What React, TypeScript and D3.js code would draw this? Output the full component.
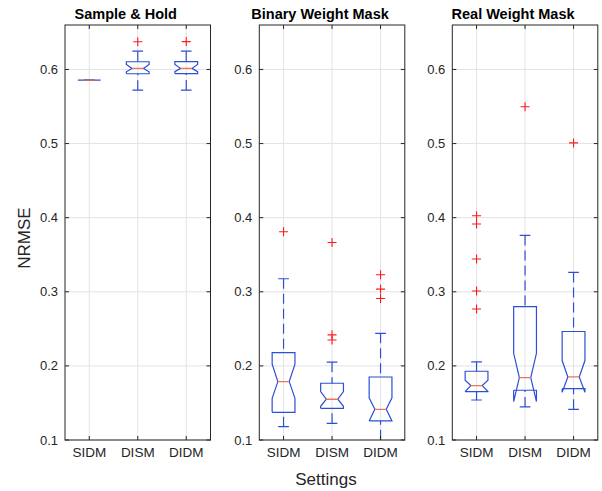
import React, { useEffect, useRef } from "react";
import * as d3 from "d3";

const categories = ["SIDM", "DISM", "DIDM"];
const panelTitles = ["Sample & Hold", "Binary Weight Mask", "Real Weight Mask"];
const yTicks = [0.1, 0.2, 0.3, 0.4, 0.5, 0.6];

// one row per panel, one value per setting (SIDM, DISM, DIDM)
const medians = [
  [0.5855, 0.6014, 0.6015],
  [0.1788, 0.155, 0.1414],
  [0.1734, 0.1842, 0.1851],
];
const q1s = [
  [0.5855, 0.5942, 0.5945],
  [0.1374, 0.1428, 0.1257],
  [0.1653, 0.1671, 0.1693],
];
const q3s = [
  [0.5855, 0.6104, 0.6105],
  [0.218, 0.1766, 0.185],
  [0.1928, 0.2801, 0.2464],
];
const notchLo = [
  [0.5855, 0.5969, 0.597],
  [0.1563, 0.1455, 0.1257],
  [0.1655, 0.1518, 0.1644],
];
const notchHi = [
  [0.5855, 0.6068, 0.6068],
  [0.2023, 0.1653, 0.157],
  [0.1808, 0.217, 0.2072],
];
const whiskerLo = [
  [0.5855, 0.572, 0.5722],
  [0.118, 0.1225, 0.08],
  [0.154, 0.1446, 0.1414],
];
const whiskerHi = [
  [0.5855, 0.6247, 0.6247],
  [0.3176, 0.205, 0.244],
  [0.2054, 0.376, 0.3261],
];
const outliers = [
  [[], [0.6374], [0.6376]],
  [[0.381], [0.3666, 0.2419, 0.235], [0.323, 0.3036, 0.291]],
  [[0.4027, 0.3915, 0.3442, 0.301, 0.2768], [0.5496], [0.5009]],
];

const W = 602;
const H = 491;
const panelLeft = [65, 259.3, 452.3];
const panelW = 145.5;
const top = 25;
const bottom = 440;
const axisColor = "#262626";
const boxColor = "#2b4fd6";
const font = "'Liberation Sans', Arial, Helvetica, sans-serif";

export default function App() {
  const ref = useRef<SVGSVGElement>(null);

  useEffect(() => {
    const svg = d3.select(ref.current);
    svg.selectAll("*").remove();

    const y = d3.scaleLinear().domain([0.1, 0.66]).range([bottom, top]);

    panelTitles.forEach((title, p) => {
      const left = panelLeft[p];
      const x = d3.scaleLinear().domain([0.5, 3.5]).range([left, left + panelW]);
      const unit = x(1) - x(0);
      const half = 0.235 * unit;
      const notch = half / 2;
      const cap = 0.11 * unit;

      const g = svg.append("g");
      const clipId = `clip${p}`;
      g.append("clipPath")
        .attr("id", clipId)
        .append("rect")
        .attr("x", left)
        .attr("y", top)
        .attr("width", panelW)
        .attr("height", bottom - top);

      // grid
      g.selectAll(".hgrid")
        .data(yTicks)
        .enter()
        .append("line")
        .attr("x1", left)
        .attr("x2", left + panelW)
        .attr("y1", (d) => y(d))
        .attr("y2", (d) => y(d))
        .attr("stroke", "#e3e3e3");
      g.selectAll(".vgrid")
        .data(categories)
        .enter()
        .append("line")
        .attr("x1", (d, i) => x(i + 1))
        .attr("x2", (d, i) => x(i + 1))
        .attr("y1", top)
        .attr("y2", bottom)
        .attr("stroke", "#e3e3e3");

      const plot = g.append("g").attr("clip-path", `url(#${clipId})`);

      categories.forEach((c, i) => {
        const cx = x(i + 1);
        const L = cx - half;
        const R = cx + half;
        const pts: [number, number][] = [
          [L, y(q1s[p][i])],
          [L, y(notchLo[p][i])],
          [cx - notch, y(medians[p][i])],
          [L, y(notchHi[p][i])],
          [L, y(q3s[p][i])],
          [R, y(q3s[p][i])],
          [R, y(notchHi[p][i])],
          [cx + notch, y(medians[p][i])],
          [R, y(notchLo[p][i])],
          [R, y(q1s[p][i])],
          [L, y(q1s[p][i])],
        ];

        // whiskers
        [
          [q3s[p][i], whiskerHi[p][i]],
          [q1s[p][i], whiskerLo[p][i]],
        ].forEach(([a, b]) => {
          plot
            .append("line")
            .attr("x1", cx)
            .attr("x2", cx)
            .attr("y1", y(b))
            .attr("y2", y(a))
            .attr("stroke", boxColor)
            .attr("stroke-width", 1.2)
            .attr("stroke-dasharray", "10 5");
          plot
            .append("line")
            .attr("x1", cx - cap)
            .attr("x2", cx + cap)
            .attr("y1", y(b))
            .attr("y2", y(b))
            .attr("stroke", boxColor)
            .attr("stroke-width", 1.2);
        });

        plot
          .append("path")
          .attr("d", d3.line()(pts))
          .attr("fill", "none")
          .attr("stroke", boxColor)
          .attr("stroke-width", 1.2);

        plot
          .append("line")
          .attr("x1", cx - notch)
          .attr("x2", cx + notch)
          .attr("y1", y(medians[p][i]))
          .attr("y2", y(medians[p][i]))
          .attr("stroke", "#ee7654")
          .attr("stroke-width", 1.3);

        outliers[p][i].forEach((v) => {
          plot
            .append("path")
            .attr("d", `M${cx - 4.5},${y(v)}H${cx + 4.5}M${cx},${y(v) - 4.5}V${y(v) + 4.5}`)
            .attr("stroke", "#ff1a1a")
            .attr("stroke-width", 1.1)
            .attr("fill", "none");
        });
      });

      // axes box and ticks
      g.append("rect")
        .attr("x", left)
        .attr("y", top)
        .attr("width", panelW)
        .attr("height", bottom - top)
        .attr("fill", "none")
        .attr("stroke", axisColor)
        .attr("stroke-width", 1);

      yTicks.forEach((t) => {
        g.append("path")
          .attr("d", `M${left},${y(t)}h4M${left + panelW},${y(t)}h-4`)
          .attr("stroke", axisColor);
        g.append("text")
          .attr("x", left - 7)
          .attr("y", y(t))
          .attr("dy", "0.35em")
          .attr("text-anchor", "end")
          .attr("font-family", font)
          .attr("font-size", 13)
          .attr("fill", axisColor)
          .text(t.toFixed(1));
      });
      categories.forEach((c, i) => {
        g.append("path")
          .attr("d", `M${x(i + 1)},${bottom}v-4M${x(i + 1)},${top}v4`)
          .attr("stroke", axisColor);
        g.append("text")
          .attr("x", x(i + 1))
          .attr("y", 457)
          .attr("text-anchor", "middle")
          .attr("font-family", font)
          .attr("font-size", 13.5)
          .attr("fill", axisColor)
          .text(c);
      });

      g.append("text")
        .attr("x", left + panelW / 2 - 12)
        .attr("y", 19)
        .attr("text-anchor", "middle")
        .attr("font-family", font)
        .attr("font-size", 14.5)
        .attr("font-weight", "bold")
        .attr("fill", "#000")
        .text(title);
    });

    svg
      .append("text")
      .attr("transform", `translate(30,238) rotate(-90)`)
      .attr("text-anchor", "middle")
      .attr("font-family", font)
      .attr("font-size", 17)
      .attr("fill", axisColor)
      .text("NRMSE");

    svg
      .append("text")
      .attr("x", 326)
      .attr("y", 485)
      .attr("text-anchor", "middle")
      .attr("font-family", font)
      .attr("font-size", 17)
      .attr("fill", axisColor)
      .text("Settings");
  }, []);

  return (
    <svg
      ref={ref}
      width={W}
      height={H}
      style={{ position: "absolute", left: 0, top: 0, background: "#fff" }}
    />
  );
}
